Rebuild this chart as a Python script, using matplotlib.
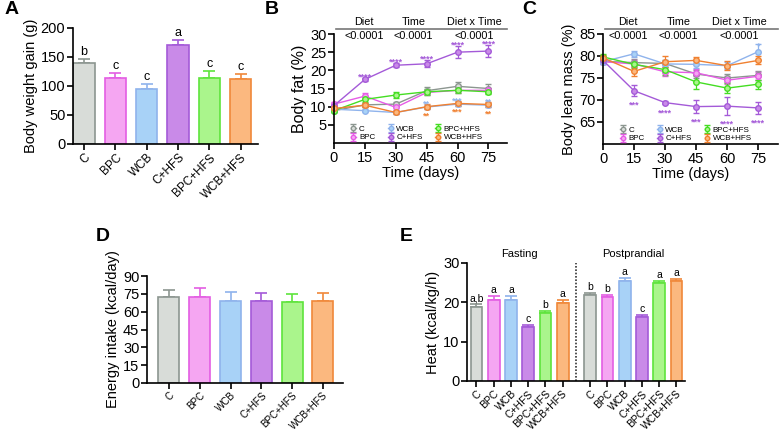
import numpy as np
import matplotlib
matplotlib.use("Agg")
import matplotlib.pyplot as plt

plt.rcParams['font.family'] = ['Liberation Sans', 'DejaVu Sans']

W, H = 780, 432

# ---- data ----
groups = ['C', 'BPC', 'WCB', 'C+HFS', 'BPC+HFS', 'WCB+HFS']
edge_cols = ['#8c9690', '#e35de3', '#8fb3ec', '#a45ad8', '#5ee43c', '#f0883a']
fill_cols = ['#d8dcd8', '#f5a6f2', '#a8d2f7', '#c98ae8', '#aaf58c', '#fbb87f']
line_cols = ['#8c9690', '#e65ce6', '#8fb3ec', '#a45ad8', '#44dd22', '#f08030']

# A: body weight gain (g)
gain = [139, 114, 95, 171, 113, 112]
gain_err = [8, 8, 9, 8, 13, 8]
gain_letters = ['b', 'c', 'c', 'a', 'c', 'c']

# B: body fat (%)
days = [0, 15, 30, 45, 60, 75]
fat = {
    'C':       [8.9, 10.5, 10.7, 14.4, 15.6, 15.0],
    'BPC':     [10.7, 12.9, 9.8, 13.9, 14.5, 14.5],
    'WCB':     [9.3, 8.9, 8.4, 9.9, 10.7, 10.4],
    'C+HFS':   [10.3, 17.5, 21.4, 21.8, 25.0, 25.3],
    'BPC+HFS': [8.9, 12.0, 13.2, 14.1, 14.5, 14.1],
    'WCB+HFS': [9.5, 10.4, 8.4, 10.0, 10.9, 10.6],
}
fat_err = {
    'C':       [0.5, 0.5, 0.6, 1.0, 1.2, 1.2],
    'BPC':     [0.5, 0.9, 0.7, 0.6, 0.7, 0.6],
    'WCB':     [0.4, 0.5, 0.3, 0.5, 0.6, 0.6],
    'C+HFS':   [0.5, 0.5, 0.6, 1.0, 1.6, 1.7],
    'BPC+HFS': [0.4, 0.6, 0.8, 0.8, 0.8, 0.7],
    'WCB+HFS': [0.4, 0.5, 0.3, 0.6, 0.6, 0.7],
}
fat_stars = {
    'C+HFS':   ['', '****', '****', '****', '****', '****'],
    'WCB':     ['', '', '', '**', '***', '**'],
    'WCB+HFS': ['', '', '', '**', '***', '**'],
}

# C: body lean mass (%)
lean = {
    'C':       [78.8, 78.5, 78.3, 75.9, 75.0, 75.6],
    'BPC':     [78.7, 78.2, 76.4, 76.2, 74.5, 75.4],
    'WCB':     [78.7, 80.5, 78.2, 78.1, 77.8, 81.0],
    'C+HFS':   [79.0, 72.1, 69.4, 68.5, 68.6, 68.2],
    'BPC+HFS': [79.8, 78.1, 76.9, 74.1, 72.7, 73.6],
    'WCB+HFS': [79.6, 76.5, 78.7, 79.0, 77.8, 79.0],
}
lean_err = {
    'C':       [0.6, 0.8, 0.8, 1.0, 1.0, 1.0],
    'BPC':     [0.6, 0.8, 1.0, 0.8, 0.9, 0.9],
    'WCB':     [0.6, 0.7, 0.8, 0.8, 0.8, 1.8],
    'C+HFS':   [0.5, 1.3, 0.4, 1.5, 2.0, 1.4],
    'BPC+HFS': [0.6, 0.8, 1.2, 1.6, 1.1, 1.0],
    'WCB+HFS': [0.6, 1.0, 1.2, 0.8, 1.0, 0.9],
}
lean_stars = {
    'C+HFS': ['', '***', '****', '***', '****', '****'],
    'WCB':   ['', '', '', '', '', '*'],
}

# D: energy intake (kcal/day)
intake = [72.1, 72.6, 68.7, 68.7, 67.9, 69.2]
intake_err = [6.0, 7.3, 8.0, 6.7, 7.0, 6.8]

# E: heat (kcal/kg/h)
heat_fast = [18.8, 20.7, 20.6, 13.8, 17.2, 19.9]
heat_fast_err = [0.7, 0.8, 0.9, 0.5, 0.6, 0.6]
heat_fast_letters = ['a,b', 'a', 'a', 'c', 'b', 'a']
heat_post = [21.8, 21.3, 25.4, 16.2, 24.9, 25.5]
heat_post_err = [0.6, 0.5, 0.7, 0.5, 0.6, 0.5]
heat_post_letters = ['b', 'b', 'a', 'c', 'a', 'a']

stat_names = ['Diet', 'Time', 'Diet x Time']
stat_p = ['<0.0001', '<0.0001', '<0.0001']

fig = plt.figure(figsize=(W / 100, H / 100), dpi=100)


def px_axes(l, t, r, b):
    return fig.add_axes([l / W, 1 - b / H, (r - l) / W, (b - t) / H])


def prism(ax, fs=10.5):
    for s in ['top', 'right']:
        ax.spines[s].set_visible(False)
    for s in ['left', 'bottom']:
        ax.spines[s].set_linewidth(1.2)
    ax.tick_params(direction='out', length=4, width=1.2, labelsize=fs, pad=1.5)


def bar_panel(ax, x, vals, errs, letters=None, lfs=8.5, loff=1.0):
    ax.bar(x, vals, width=0.68, color=fill_cols, edgecolor=edge_cols, linewidth=1.2, zorder=2)
    for i in range(len(x)):
        ax.errorbar(x[i], vals[i], yerr=[[0], [errs[i]]], fmt='none', ecolor=edge_cols[i],
                    elinewidth=1.2, capsize=4, capthick=1.2, zorder=1)
        if letters:
            ax.text(x[i], vals[i] + errs[i] + loff, letters[i], ha='center', va='bottom', fontsize=lfs)


def line_panel(ax, data, errs):
    for g, lc, fc in zip(groups, line_cols, fill_cols):
        ax.errorbar(days, data[g], yerr=errs[g], color=lc, lw=1.0, marker='o', ms=4,
                    mfc=fc, mec=lc, mew=1.0, capsize=2, elinewidth=0.9, label=g, clip_on=False)


def stats_header(ax, centers, x0, x1):
    tr = ax.get_xaxis_transform()
    ax.plot([x0, x1], [1.045, 1.045], transform=tr, color='#777777', lw=1.2, clip_on=False)
    for c, n, p in zip(centers, stat_names, stat_p):
        ax.text(c, 1.065, n, transform=tr, ha='center', va='bottom', fontsize=7.8)
        ax.text(c, 1.03, p, transform=tr, ha='center', va='top', fontsize=7.8)


def panel_letter(x, y, s):
    fig.text(x / W, 1 - y / H, s, fontsize=14, fontweight='bold', ha='left', va='top')


def legend6(ax):
    ax.legend(ncol=3, loc='lower left', bbox_to_anchor=(0.07, -0.03), fontsize=5.8, frameon=False,
              handlelength=0.6, handletextpad=0.4, columnspacing=1.6, labelspacing=0.1,
              borderpad=0.1, markerscale=0.8)


x6 = np.arange(6)

# ---- A ----
axA = px_axes(73, 28, 258, 144)
bar_panel(axA, x6, gain, gain_err, gain_letters, lfs=9, loff=2)
axA.set_xlim(-0.35, 5.55)
axA.set_ylim(0, 200)
axA.set_yticks([0, 50, 100, 150, 200])
axA.set_xticks(x6)
prism(axA, 10.5)
axA.set_xticklabels(groups, rotation=45, ha='right', rotation_mode='anchor', fontsize=8.5)
axA.set_ylabel('Body weight gain (g)', fontsize=10.5, labelpad=2)
panel_letter(5, 1, 'A')

# ---- B ----
axB = px_axes(334, 34, 507, 143)
line_panel(axB, fat, fat_err)
for g, stars in fat_stars.items():
    ci = groups.index(g)
    for i, s in enumerate(stars):
        if not s:
            continue
        if g == 'WCB+HFS':
            y = fat[g][i] - fat_err[g][i] - 2.6
        else:
            y = fat[g][i] + fat_err[g][i] - 0.4
        axB.text(days[i], y, s, color=line_cols[ci], ha='center', va='baseline', fontsize=6.5,
                 fontweight='bold')
axB.set_xlim(0, 84)
axB.set_ylim(0, 30)
axB.set_yticks([5, 10, 15, 20, 25, 30])
axB.set_xticks(days)
prism(axB, 10.5)
axB.set_xlabel('Time (days)', fontsize=10.5, labelpad=1)
axB.set_ylabel('Body fat (%)', fontsize=11.5, labelpad=2)
stats_header(axB, [14.5, 38.7, 68], 1, 84)
legend6(axB)
panel_letter(265, 1, 'B')

# ---- C ----
axC = px_axes(603, 34, 778, 144)
line_panel(axC, lean, lean_err)
for g, stars in lean_stars.items():
    ci = groups.index(g)
    for i, s in enumerate(stars):
        if not s:
            continue
        if g == 'C+HFS':
            y = lean[g][i] - lean_err[g][i] - 2.6
        else:
            y = lean[g][i] + lean_err[g][i] - 1.1
        axC.text(days[i], y, s, color=line_cols[ci], ha='center', va='baseline', fontsize=6.5,
                 fontweight='bold')
axC.set_xlim(0, 84.5)
axC.set_ylim(60, 85)
axC.set_yticks([65, 70, 75, 80, 85])
axC.set_xticks(days)
prism(axC, 10.5)
axC.set_xlabel('Time (days)', fontsize=10.5, labelpad=1)
axC.set_ylabel('Body lean mass (%)', fontsize=10.5, labelpad=2)
stats_header(axC, [12, 36.4, 66], 1, 84.5)
legend6(axC)
panel_letter(522, 1, 'C')

# ---- D ----
axD = px_axes(147, 276, 343, 383)
bar_panel(axD, x6, intake, intake_err)
axD.set_xlim(-0.71, 5.65)
axD.set_ylim(0, 90)
axD.set_yticks([0, 15, 30, 45, 60, 75, 90])
axD.set_xticks(x6)
prism(axD, 10.5)
axD.tick_params(axis='x', pad=1)
axD.set_xticklabels(groups, rotation=45, ha='right', rotation_mode='anchor', fontsize=7.1)
axD.set_ylabel('Energy intake (kcal/day)', fontsize=10.5, labelpad=2)
panel_letter(96, 228, 'D')

# ---- E ----
axE = px_axes(467, 263, 685, 381)
xf = np.arange(6)
xp = np.arange(6) + 6.6
bar_panel(axE, xf, heat_fast, heat_fast_err, heat_fast_letters, lfs=7.5, loff=0.3)
bar_panel(axE, xp, heat_post, heat_post_err, heat_post_letters, lfs=7.5, loff=0.3)
axE.axvline(5.8, color='#333333', lw=1.2, ls=(0, (1, 1)))
axE.set_xlim(-0.55, 12.1)
axE.set_ylim(0, 30)
axE.set_yticks([0, 10, 20, 30])
axE.set_xticks(np.concatenate([xf, xp]))
prism(axE, 10.5)
axE.set_xticklabels(groups + groups, rotation=45, ha='right', rotation_mode='anchor', fontsize=7.5)
axE.set_ylabel('Heat (kcal/kg/h)', fontsize=10.5, labelpad=2)
axE.text(2.5, 1.03, 'Fasting', transform=axE.get_xaxis_transform(), ha='center', va='bottom', fontsize=8)
axE.text(9.1, 1.03, 'Postprandial', transform=axE.get_xaxis_transform(), ha='center', va='bottom', fontsize=8)
panel_letter(400, 228, 'E')

fig.savefig('out.png', dpi=100)
